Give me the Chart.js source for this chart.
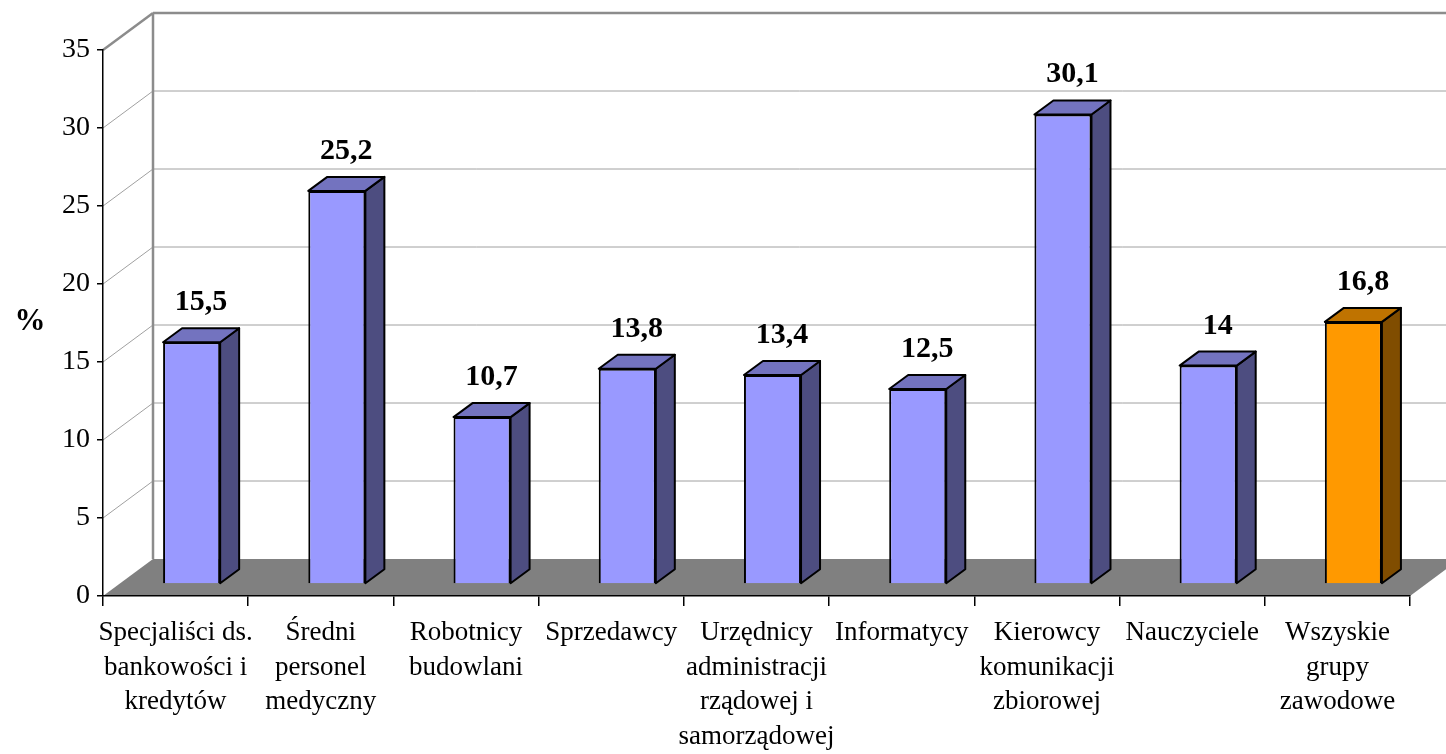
<!DOCTYPE html>
<html lang="pl">

<head>
    <meta charset="UTF-8">
    <title>Odsetek w grupach zawodowych</title>
    <script src="https://cdn.jsdelivr.net/npm/chart.js"></script>
    <style>
        body { margin: 0; background: #fff; }
        #box { width: 1446px; height: 754px; }
    </style>
</head>

<body>
    <div id="box"><canvas id="wykres"></canvas></div>

    <script>
        const kategorie = [
            ['Specjaliści ds.', 'bankowości i', 'kredytów'],
            ['Średni', 'personel', 'medyczny'],
            ['Robotnicy', 'budowlani'],
            ['Sprzedawcy'],
            ['Urzędnicy', 'administracji', 'rządowej i', 'samorządowej'],
            ['Informatycy'],
            ['Kierowcy', 'komunikacji', 'zbiorowej'],
            ['Nauczyciele'],
            ['Wszyskie', 'grupy', 'zawodowe']
        ];
        const wartosci = [15.5, 25.2, 10.7, 13.8, 13.4, 12.5, 30.1, 14, 16.8];
        const osY = { min: 0, max: 35, krok: 5 };

        const SERIF = '"Liberation Serif", "Times New Roman", serif';
        // głębia ścian i słupków (efekt 3D)
        const DX = 50, DY = -37;     // ściana tylna
        const FX = 16, FY = -12;     // przód słupka względem osi
        const BX = 19, BY = -14;     // grubość słupka

        const ostatni = wartosci.length - 1;
        const kolorPrzod = i => i === ostatni ? '#FF9900' : '#9999FF';
        const kolorGora = i => i === ostatni ? '#BF7300' : '#7373BF';
        const kolorBok = i => i === ostatni ? '#804D00' : '#4D4D80';

        function linia(ctx, x1, y1, x2, y2, kolor, grubosc) {
            ctx.beginPath();
            ctx.moveTo(x1, y1);
            ctx.lineTo(x2, y2);
            ctx.strokeStyle = kolor;
            ctx.lineWidth = grubosc;
            ctx.stroke();
        }

        function wielokat(ctx, pkt, kolor) {
            ctx.beginPath();
            ctx.moveTo(pkt[0][0], pkt[0][1]);
            pkt.slice(1).forEach(p => ctx.lineTo(p[0], p[1]));
            ctx.closePath();
            ctx.fillStyle = kolor;
            ctx.fill();
            ctx.strokeStyle = '#000';
            ctx.lineWidth = 2;
            ctx.lineJoin = 'round';
            ctx.stroke();
        }

        const trojwymiar = {
            id: 'trojwymiar',
            beforeDraw(chart) {
                const { ctx, chartArea: a, scales: { y } } = chart;
                const W = chart.width;
                ctx.save();
                // linie siatki na ścianach
                for (let v = osY.krok; v <= osY.max; v += osY.krok) {
                    const yf = y.getPixelForValue(v);
                    const gora = v === osY.max;
                    const kolor = gora ? '#8c8c8c' : '#a0a0a0';
                    const gr = gora ? 2.5 : 1;
                    linia(ctx, a.left, yf, a.left + DX, yf + DY, kolor, gr);
                    linia(ctx, a.left + DX, yf + DY, W, yf + DY, kolor, gr);
                }
                // narożnik ściany
                linia(ctx, a.left + DX, y.getPixelForValue(osY.max) + DY,
                    a.left + DX, y.getPixelForValue(0) + DY, '#8c8c8c', 2.5);
                // podłoga
                const y0 = y.getPixelForValue(0);
                ctx.beginPath();
                ctx.moveTo(a.left, y0);
                ctx.lineTo(a.right, y0);
                ctx.lineTo(a.right + DX, y0 + DY);
                ctx.lineTo(a.left + DX, y0 + DY);
                ctx.closePath();
                ctx.fillStyle = '#808080';
                ctx.fill();
                ctx.restore();
            },
            beforeDatasetsDraw(chart) {
                const ctx = chart.ctx;
                ctx.save();
                ctx.translate(FX, FY);
                chart.getDatasetMeta(0).data.forEach((bar, i) => {
                    const l = bar.x - bar.width / 2, r = bar.x + bar.width / 2;
                    wielokat(ctx, [[r, bar.y], [r + BX, bar.y + BY], [r + BX, bar.base + BY], [r, bar.base]], kolorBok(i));
                    wielokat(ctx, [[l, bar.y], [l + BX, bar.y + BY], [r + BX, bar.y + BY], [r, bar.y]], kolorGora(i));
                });
            },
            afterDatasetsDraw(chart) {
                const ctx = chart.ctx;
                ctx.restore();
                ctx.save();
                ctx.font = 'bold 30px ' + SERIF;
                ctx.fillStyle = '#000';
                ctx.textAlign = 'center';
                ctx.textBaseline = 'alphabetic';
                chart.getDatasetMeta(0).data.forEach((bar, i) => {
                    const tekst = String(wartosci[i]).replace('.', ',');
                    ctx.fillText(tekst, bar.x + FX + BX / 2, bar.y + FY + BY - 18);
                });
                // tytuł osi
                ctx.font = 'bold 31px ' + SERIF;
                ctx.textBaseline = 'middle';
                ctx.fillText('%', 30, 322);
                ctx.restore();
            }
        };

        new Chart(document.getElementById('wykres'), {
            type: 'bar',
            data: {
                labels: kategorie,
                datasets: [{
                    data: wartosci,
                    backgroundColor: wartosci.map((v, i) => kolorPrzod(i)),
                    borderColor: '#000',
                    borderWidth: 2,
                    barPercentage: 0.393,
                    categoryPercentage: 1
                }]
            },
            options: {
                responsive: true,
                maintainAspectRatio: false,
                animation: false,
                layout: { padding: { top: 50, right: 36 } },
                plugins: {
                    legend: { display: false },
                    tooltip: { enabled: false }
                },
                scales: {
                    x: {
                        afterFit: s => { s.height = 158; },
                        border: { display: true, color: '#000', width: 1.5 },
                        grid: { offset: true, drawOnChartArea: false, color: '#000', tickLength: 10, lineWidth: 1.5 },
                        ticks: {
                            autoSkip: false, maxRotation: 0, minRotation: 0,
                            color: '#000', padding: 10,
                            font: { family: SERIF, size: 27, lineHeight: 1.28 }
                        }
                    },
                    y: {
                        min: osY.min, max: osY.max,
                        afterFit: s => { s.width = 103; },
                        border: { display: true, color: '#000', width: 1.5 },
                        grid: { drawOnChartArea: false, color: '#000', tickLength: 6, lineWidth: 1.5 },
                        ticks: {
                            stepSize: osY.krok, color: '#000', padding: 7,
                            font: { family: SERIF, size: 28 }
                        }
                    }
                }
            },
            plugins: [trojwymiar]
        });
    </script>
</body>

</html>
